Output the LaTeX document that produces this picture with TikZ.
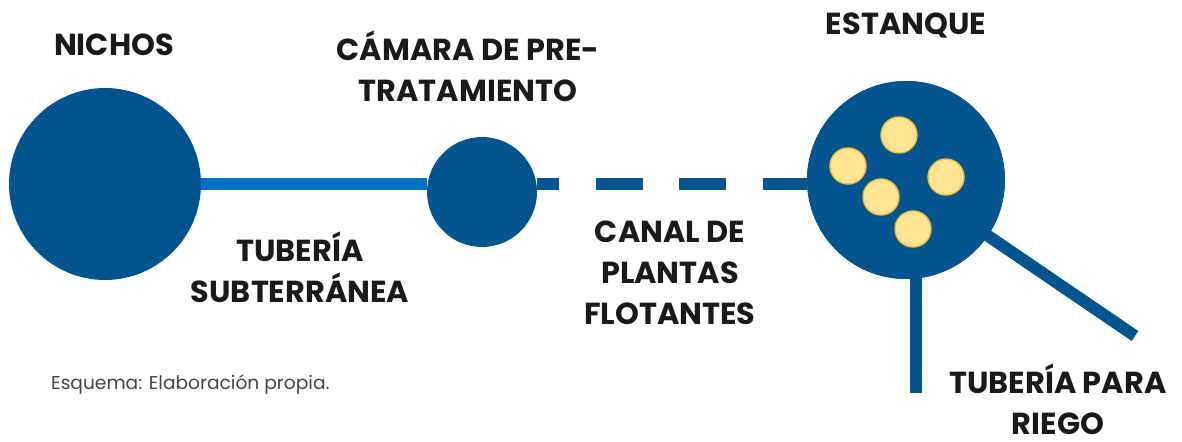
\documentclass[tikz,border=0pt]{standalone}
\usepackage{fontspec}
\setmainfont{Poppins}
\usepackage{tikz}
\usetikzlibrary{positioning}
\definecolor{Deep}{HTML}{03548F}
\definecolor{Pipe}{HTML}{0070C0}
\definecolor{Pale}{HTML}{FFE494}
\definecolor{Gold}{HTML}{F0C233}
\definecolor{Ink}{HTML}{1A1A1A}
\definecolor{Note}{HTML}{444444}

\begin{document}
\begin{tikzpicture}[x=0.02cm,y=-0.02cm,font=\bfseries\fontsize{17.3}{23.3}\selectfont,
    pond/.style={circle,fill=Deep,inner sep=0pt},
    tube/.style={line width=0.24cm},
    label/.style={text=Ink,align=center}]
        \useasboundingbox (0,0) rectangle (1182,442);
        % pools
        \node[pond,minimum size=3.84cm] (nichos) at (105,184) {};
        \node[pond,minimum size=2.2cm] (camara) at (482,192) {};
        \node[pond,minimum size=3.96cm] (estanque) at (906,180) {};
        \coordinate (riego) at (916,393);
        \coordinate (salida) at (1135,336);
        % pipes
        \draw[tube,Pipe] (nichos.east |- 0,184) -- (camara.west |- 0,184);
        \draw[tube,Deep,dash pattern=on 26.6pt off 20.8pt,dash phase=14pt] (camara.east |- 0,184) -- (estanque.west |- 0,184);
        \draw[tube,Deep] (riego) -- (riego |- estanque.center);
        \draw[tube,Deep] (salida) -- (estanque.center);
        \node[pond,minimum size=3.96cm] at (estanque) {};
        % floating plants
        \foreach \x/\y [count=\i] in {899/135,848/166,946/177,881/197,913/229}
          \node[circle,fill=Pale,draw=Gold,line width=0.8pt,minimum size=0.72cm,inner sep=0pt] (planta\i) at (\x,\y) {};
        % labels
        \node[label] (lnichos) at (114,45) {NICHOS};
        \node[label] (lcamara) at (468,66) {CÁMARA DE PRE-\\TRATAMIENTO};
        \node[label] (lestanque) at (906,26) {ESTANQUE};
        \node[label] (ltuberia) at (300,267) {TUBERÍA\\SUBTERRÁNEA};
        \node[label] (lcanal) at (670,273) {CANAL DE\\PLANTAS\\FLOTANTES};
        \node[label,inner sep=0pt] (lriego) at (1058,399) {TUBERÍA PARA\\RIEGO};
        \node[text=Note,font=\fontsize{10.6}{12}\selectfont,anchor=west] (fuente) at (45,385) {Esquema: Elaboración propia.};
      \end{tikzpicture}
\end{document}
